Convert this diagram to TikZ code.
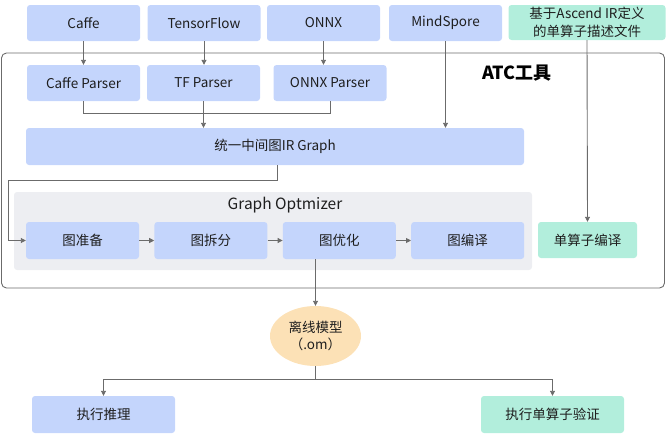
\documentclass[tikz,border=0pt]{standalone}
\usepackage{fontspec}
\setmainfont{Noto Sans CJK SC}
\usetikzlibrary{arrows.meta, positioning, shapes.geometric}
\definecolor{irblue}{HTML}{C4D5FC}
\definecolor{opgreen}{HTML}{B2EEDC}
\definecolor{optgray}{HTML}{EDEEF2}
\definecolor{omorange}{HTML}{FCE1B6}
\definecolor{linegray}{HTML}{6B6B6B}
\definecolor{black90}{HTML}{1E1E1E}

\begin{document}
\begin{tikzpicture}[
    x=1pt, y=-1pt,
    >={Triangle[length=5pt, width=5pt]},
    box/.style={
        fill=irblue,
        rounded corners=3pt,
        minimum width=113pt,
        minimum height=36pt,
        inner sep=0pt,
        align=center,
        font=\fontsize{13.5}{18}\selectfont,
        text=black90,
    },
    opbox/.style={
        box,
        fill=opgreen,
    },
    conn/.style={
        draw=linegray,
        line width=0.9pt,
    },
]
\useasboundingbox (0,0) rectangle (666,434);

% --- Outer ATC frame ---
\node[draw=linegray, line width=0.9pt, rounded corners=5pt,
    minimum width=663pt, minimum height=235pt, inner sep=0pt] (atc) at (333,170.5) {};
\node[font=\fontsize{18}{20}\selectfont\bfseries, text=black] (atclabel) at (517,73) {ATC工具};

% --- Top row: frameworks and IR description ---
\node[box] (caffe) at (83.5,23) {Caffe};
\node[box] (tf) at (204,23) {TensorFlow};
\node[box] (onnx) at (323.5,23) {ONNX};
\node[box] (mindspore) at (445.5,23) {MindSpore};
\node[opbox, minimum width=157pt, minimum height=35pt] (irdef) at (587,22.5) {
    基于Ascend IR定义\\
    的单算子描述文件
};

% --- Parsers ---
\node[box] (caffeparser) at (83.5,83) {Caffe Parser};
\node[box] (tfparser) at (203.5,83) {TF Parser};
\node[box] (onnxparser) at (330,83) {ONNX Parser};

\draw[conn, ->] (caffe.south) -- (caffeparser.north);
\draw[conn, ->] (tf.south) -- (tf.south |- tfparser.north);
\draw[conn, ->] (onnx.south) -- (onnx.south |- onnxparser.north);

% --- Unified IR graph ---
\node[box, minimum width=498pt, minimum height=37pt] (irgraph) at (275,146.5) {统一中间图IR Graph};

% Parsers merge into the IR graph
\draw[conn] (caffeparser.south) -- ++(0,12) -| (onnxparser.south);
\draw[conn, ->] (tfparser.south) -- (tfparser.south |- irgraph.north);
\draw[conn, ->] (mindspore.south) -- (mindspore.south |- irgraph.north);

% --- Graph optimizer ---
\node[fill=optgray, rounded corners=3pt, minimum width=518pt, minimum height=78pt,
    inner sep=0pt] (optimizer) at (273,231) {};
\node[font=\fontsize{15.5}{17}\selectfont, text=black90] (optlabel) at (285,205) {Graph Optmizer};

\node[box, minimum height=37pt] (prep) at (82.5,240.5) {图准备};
\node[box, minimum height=37pt, right=15pt of prep] (split) {图拆分};
\node[box, minimum height=37pt, right=15pt of split] (optim) {图优化};
\node[box, minimum height=37pt, right=15pt of optim] (compile) {图编译};

\draw[conn, ->] (prep.east) -- (split.west);
\draw[conn, ->] (split.east) -- (optim.west);
\draw[conn, ->] (optim.east) -- (compile.west);

% IR graph down into the optimizer, round the left side
\coordinate (bend) at (8,180);
\draw[conn, ->] ([xshift=2pt]irgraph.south) |- (bend) |- (prep.west);

% --- Single operator compile ---
\node[opbox, minimum width=99pt] (opcompile) at (587.5,240) {单算子编译};
\draw[conn, ->] (irdef.south) -- (opcompile.north);

% --- Offline model ---
\node[ellipse, fill=omorange, minimum width=91pt, minimum height=60pt, inner sep=0pt,
    align=center, font=\fontsize{13.5}{17}\selectfont, text=black90] (om) at (315.5,336) {
    离线模型\\
    （.om）
};
\draw[conn, ->] (om.north |- optim.south) -- (om.north);

% --- Outputs ---
\node[box, minimum width=143pt, minimum height=37pt] (infer) at (103.5,414.5) {执行推理};
\node[opbox, minimum width=143pt, minimum height=37pt] (verify) at (552.5,414.5) {执行单算子验证};

\draw[conn] (om.south) -- ++(0,13) coordinate (fork);
\draw[conn, ->] (fork) -| (infer.north);
\draw[conn, ->] (fork) -| (verify.north);

\end{tikzpicture}
\end{document}
